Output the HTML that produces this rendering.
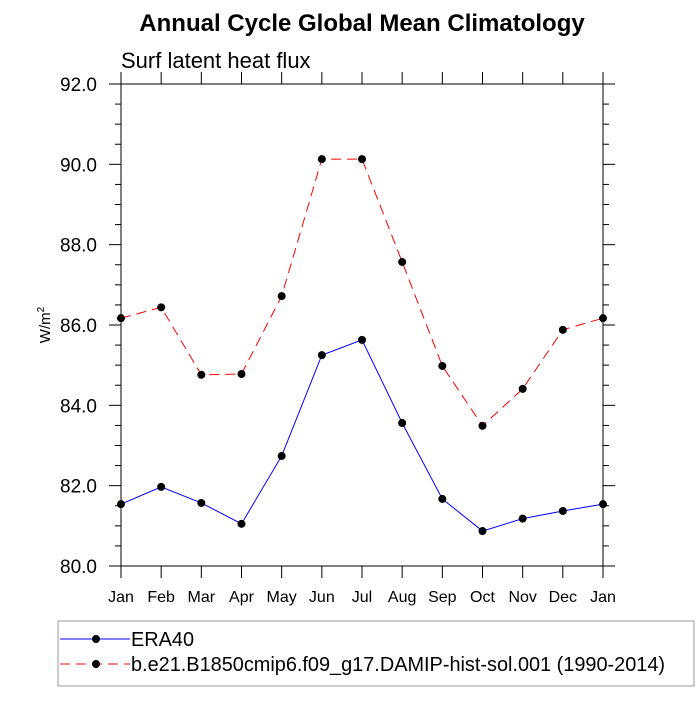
<!DOCTYPE html>
<html><head><meta charset="utf-8"><style>
body{margin:0;background:#fff;}
svg text{font-family:"Liberation Sans",sans-serif;}
</style></head><body>
<svg id="chart" width="700" height="700" xmlns="http://www.w3.org/2000/svg">
<text x="362" y="31" text-anchor="middle" font-size="24" font-weight="bold">Annual Cycle Global Mean Climatology</text>
<text x="121" y="68" font-size="22">Surf latent heat flux</text>
<text transform="translate(50,325) rotate(-90)" text-anchor="middle" font-size="15">W/m<tspan dy="-6" font-size="10">2</tspan></text>
<g id="axes"></g>
<g id="series"></g>
<rect x="58" y="621" width="636" height="65" fill="none" stroke="#999" stroke-width="1"/>
<g>
<line x1="60" y1="639" x2="130" y2="639" stroke="#0000ff" stroke-width="1"/>
<circle cx="96" cy="639" r="4" fill="#000"/>
<text x="131" y="646" font-size="19.9">ERA40</text>
</g>
<g>
<line x1="60" y1="664" x2="130" y2="664" stroke="#ff0000" stroke-width="1" stroke-dasharray="10,6"/>
<circle cx="96" cy="664" r="4" fill="#000"/>
<text x="131" y="671" font-size="19.9">b.e21.B1850cmip6.f09_g17.DAMIP-hist-sol.001 (1990-2014)</text>
</g>
</svg>
<script>
const months=["Jan","Feb","Mar","Apr","May","Jun","Jul","Aug","Sep","Oct","Nov","Dec","Jan"];
const era40=[81.54,81.97,81.57,81.05,82.74,85.25,85.63,83.56,81.67,80.87,81.18,81.37,81.54];
const model=[86.17,86.44,84.76,84.78,86.72,90.13,90.13,87.57,84.98,83.49,84.41,85.88,86.17];
const yTicks=[80,82,84,86,88,90,92];
const L=121,R=603,T=84,B=566,yMin=80,yMax=92;
const NS="http://www.w3.org/2000/svg";
const xs=i=>L+i*(R-L)/(months.length-1);
const ys=v=>B-(v-yMin)/(yMax-yMin)*(B-T);
const ax=document.getElementById('axes'),se=document.getElementById('series');
function mk(tag,attrs,parent){const e=document.createElementNS(NS,tag);for(const k in attrs)e.setAttribute(k,attrs[k]);parent.appendChild(e);return e;}
const frame=mk('rect',{x:L,y:T,width:R-L,height:B-T,fill:'none',stroke:'#000','stroke-width':1},ax);


for(let v=yMin;v<=yMax+1e-9;v+=0.5){
  const major=Math.abs(v/2-Math.round(v/2))<1e-9;const len=major?12:6;
  mk('line',{x1:L-len,x2:L,y1:ys(v),y2:ys(v),stroke:'#000'},ax);
  mk('line',{x1:R,x2:R+len,y1:ys(v),y2:ys(v),stroke:'#000'},ax);
}
yTicks.forEach(v=>{const t=mk('text',{x:L-24,y:ys(v)+7,'text-anchor':'end','font-size':19},ax);t.textContent=v.toFixed(1);

});
months.forEach((m,i)=>{const x=xs(i);
  mk('line',{x1:x,x2:x,y1:B,y2:B+12,stroke:'#000'},ax);
  mk('line',{x1:x,x2:x,y1:T-12,y2:T,stroke:'#000'},ax);
  const t=mk('text',{x:x,y:B+36,'text-anchor':'middle','font-size':16},ax);t.textContent=m;
  
  });
function series(vals,color,dash,name){
  const p=mk('polyline',{points:vals.map((v,i)=>xs(i)+','+ys(v)).join(' '),fill:'none',stroke:color,'stroke-width':1},se);
  if(dash)p.setAttribute('stroke-dasharray',dash);
  
  
  vals.forEach((v,i)=>{const c=mk('circle',{cx:xs(i),cy:ys(v),r:4,fill:'#000'},se);
    
    });
}
series(era40,'#0000ff',null,'era40');
series(model,'#ff0000','10,6','model');
</script>
</body></html>
